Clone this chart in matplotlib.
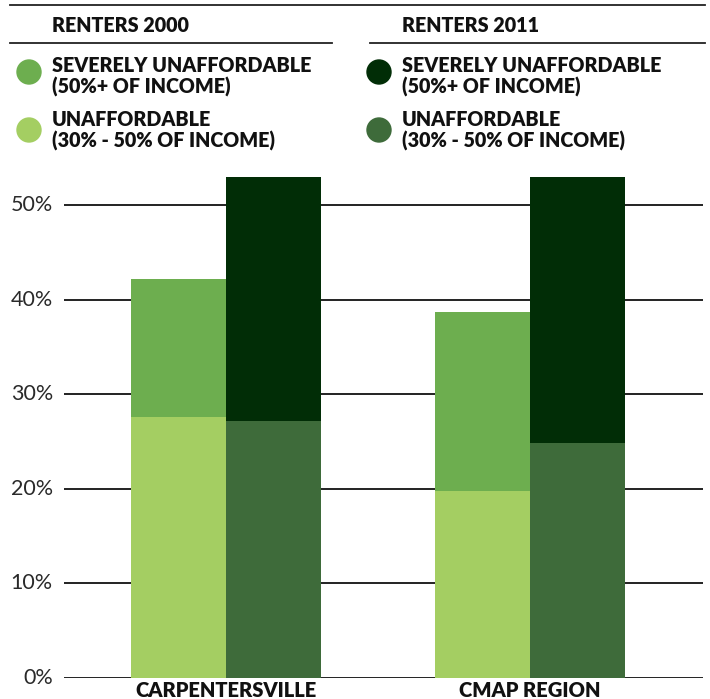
import matplotlib
matplotlib.use("Agg")
import matplotlib.pyplot as plt
from matplotlib.patches import Circle
from matplotlib.lines import Line2D
import numpy as np

categories = ["CARPENTERSVILLE", "CMAP REGION"]
unaff_2000 = [27.6, 19.8]
severe_2000 = [14.6, 18.9]
unaff_2011 = [27.2, 24.9]
severe_2011 = [27.0, 29.0]
yticks = [0, 10, 20, 30, 40, 50]
ytick_labels = ["0%", "10%", "20%", "30%", "40%", "50%"]

c_light = "#A4CE62"
c_med = "#6DAE4F"
c_dark = "#3E6B3A"
c_darkest = "#012D06"

W, H = 710, 699
fig = plt.figure(figsize=(W / 100, H / 100), dpi=100)
ax = fig.add_axes([64 / W, 1 - 678 / H, 639 / W, (678 - 177) / H])

x = np.arange(len(categories))
bw = 0.311
ax.bar(x - bw / 2, unaff_2000, bw, color=c_light, zorder=3, edgecolor="none")
ax.bar(x - bw / 2, severe_2000, bw, bottom=unaff_2000, color=c_med, zorder=3, edgecolor="none")
ax.bar(x + bw / 2, unaff_2011, bw, color=c_dark, zorder=3, edgecolor="none")
ax.bar(x + bw / 2, severe_2011, bw, bottom=unaff_2011, color=c_darkest, zorder=3, edgecolor="none")

ax.set_xlim(-0.533, 1.569)
ax.set_ylim(0, 53)
ax.set_yticks(yticks)
ax.set_yticklabels(ytick_labels, fontsize=15.5, family="Lato", fontweight="normal", color="#2a2a2a")
ax.set_xticks(x)
ax.set_xticklabels(categories, fontsize=14.5, family="Lato", fontweight="heavy", color="#111111")
ax.tick_params(axis="y", length=0, pad=8)
ax.tick_params(axis="x", length=0, pad=2)
for s in ax.spines.values():
    s.set_visible(False)
ax.yaxis.grid(True, color="#111111", lw=1.3, zorder=0)
ax.set_axisbelow(True)
for t in ax.get_yticklabels():
    t.set_verticalalignment("center")

def fx(px):
    return px / W

def fy(py):
    return 1 - py / H

# header lines
fig.add_artist(Line2D([fx(10), fx(705)], [fy(5), fy(5)], color="#222222", lw=1.3))
fig.add_artist(Line2D([fx(10), fx(332)], [fy(43), fy(43)], color="#222222", lw=1.3))
fig.add_artist(Line2D([fx(370), fx(705)], [fy(43), fy(43)], color="#222222", lw=1.3))

tk = dict(family="Lato", fontweight="heavy", fontsize=14.2, color="#111111", va="center", ha="left")
fig.text(fx(52), fy(25), "RENTERS 2000", **tk)
fig.text(fx(402), fy(25), "RENTERS 2011", **tk)

legend_items = [
    (29, 52, 72, 66, 87, c_med, "SEVERELY UNAFFORDABLE", "(50%+ OF INCOME)"),
    (29, 52, 130, 120, 141, c_light, "UNAFFORDABLE", "(30% - 50% OF INCOME)"),
    (379, 402, 72, 66, 87, c_darkest, "SEVERELY UNAFFORDABLE", "(50%+ OF INCOME)"),
    (379, 402, 130, 120, 141, c_dark, "UNAFFORDABLE", "(30% - 50% OF INCOME)"),
]
for cx, tx, cy, y1, y2, col, l1, l2 in legend_items:
    fig.add_artist(Circle((cx, H - cy), 12, transform=None, color=col))
    fig.text(fx(tx), fy(y1), l1, **tk)
    fig.text(fx(tx), fy(y2), l2, **tk)

fig.savefig("out.png", dpi=100)
